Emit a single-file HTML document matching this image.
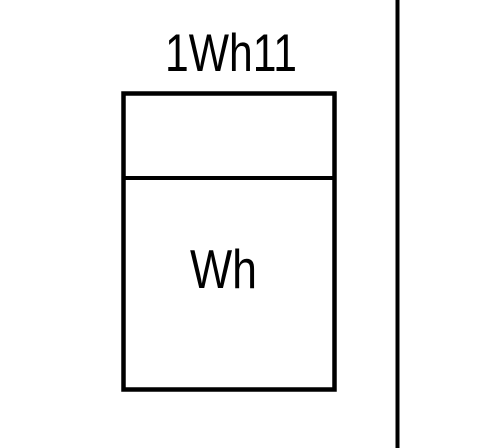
<!DOCTYPE html>
<html><head><meta charset="utf-8"><style>
html,body{margin:0;padding:0;background:#fff;width:480px;height:448px;overflow:hidden}
</style></head><body>
<svg width="480" height="448" viewBox="0 0 480 448" xmlns="http://www.w3.org/2000/svg">
  <rect x="0" y="0" width="480" height="448" fill="#fff"/>
  <text x="165" y="71" font-family="Liberation Sans, sans-serif" font-size="53" textLength="132" lengthAdjust="spacingAndGlyphs" fill="#000">1Wh11</text>
  <rect x="123.5" y="93.5" width="211" height="296" fill="none" stroke="#000" stroke-width="4.5"/>
  <line x1="123.5" y1="178" x2="334.5" y2="178" stroke="#000" stroke-width="4"/>
  <text x="190" y="288" font-family="Liberation Sans, sans-serif" font-size="55" textLength="67" lengthAdjust="spacingAndGlyphs" fill="#000">Wh</text>
  <line x1="397.5" y1="0" x2="397.5" y2="448" stroke="#000" stroke-width="4"/>
</svg>
</body></html>
